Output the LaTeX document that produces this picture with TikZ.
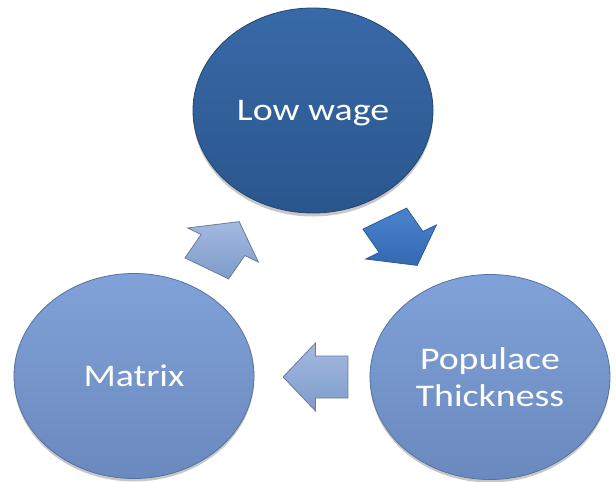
\documentclass[tikz,border=0pt]{standalone}
\usepackage{fontspec}
\usepackage{graphicx}
\setmainfont{Carlito}
\usetikzlibrary{shapes.geometric}
\definecolor{darkTop}{HTML}{3869A8}
\definecolor{darkBot}{HTML}{2A568D}
\definecolor{darkEdge}{HTML}{22466F}
\definecolor{lightTop}{HTML}{80A2D8}
\definecolor{lightBot}{HTML}{6A89BE}
\definecolor{lightEdge}{HTML}{5872A0}
\definecolor{arrLightTop}{HTML}{A3B9E0}
\definecolor{arrLightBot}{HTML}{7F9BCB}
\definecolor{arrLightEdge}{HTML}{6B7B99}
\definecolor{arrDarkTop}{HTML}{4A83CC}
\definecolor{arrDarkBot}{HTML}{3469B2}
\definecolor{arrDarkEdge}{HTML}{2A5A96}
\newcommand{\wtext}[1]{\scalebox{1.2}[1]{#1}}
\begin{document}
\begin{tikzpicture}[x=1pt,y=-1pt,
  circ/.style={ellipse, minimum width=240pt, minimum height=205pt, inner sep=0pt,
    line width=0.8pt, text=white, align=center, font=\fontsize{31.5}{37}\selectfont},
  darkcirc/.style={circ, top color=darkTop, bottom color=darkBot, draw=darkEdge},
  lightcirc/.style={circ, top color=lightTop, bottom color=lightBot, draw=lightEdge},
  shade/.style={ellipse, minimum width=240pt, minimum height=205pt, inner sep=0pt,
    fill=black, fill opacity=0.22},
  lightarrow/.style={top color=arrLightTop, bottom color=arrLightBot, draw=arrLightEdge, line width=0.8pt, line join=miter},
  darkarrow/.style={top color=arrDarkTop, bottom color=arrDarkBot, draw=arrDarkEdge, line width=0.8pt, line join=miter}
]
\useasboundingbox (0,0) rectangle (616,482);
\fill[white] (0,0) rectangle (616,482);
% shadows
\node[shade] (s1) at (313,114) {};
\node[shade] (s2) at (490,380) {};
\node[shade] (s3) at (134,379) {};
% ellipses
\node[darkcirc, text depth=0pt] (low) at (313,110.5) {\wtext{Low wage}};
\node[lightcirc] (pop) at (490,377) {\wtext{Populace}\\\wtext{Thickness}};
\node[lightcirc] (mat) at (134,376) {\wtext{Matrix}};
% block arrows
\begin{scope}[shift={(223,245)}, xscale=1.2, rotate=60]
  \path[lightarrow] (-27,-21) -- (0,-21) -- (0,-34) -- (27,0) -- (0,34) -- (0,21) -- (-27,21) -- cycle;
\end{scope}
\begin{scope}[shift={(401,242)}, xscale=1.2, rotate=-60]
  \path[darkarrow] (-27,-21) -- (0,-21) -- (0,-34) -- (27,0) -- (0,34) -- (0,21) -- (-27,21) -- cycle;
\end{scope}
\begin{scope}[shift={(315.5,377)}, xscale=1.2, rotate=180]
  \path[lightarrow] (-27,-21) -- (0,-21) -- (0,-34) -- (27,0) -- (0,34) -- (0,21) -- (-27,21) -- cycle;
\end{scope}
\end{tikzpicture}
\end{document}
